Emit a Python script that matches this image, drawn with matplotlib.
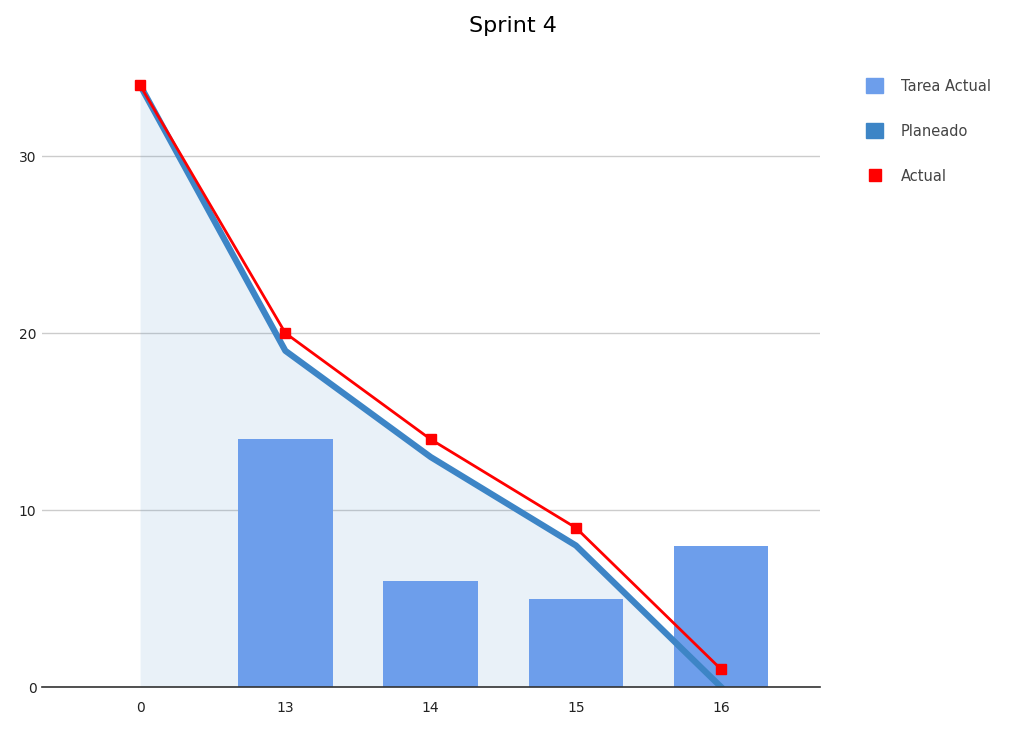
import matplotlib.pyplot as plt
from matplotlib.patches import Patch
from matplotlib.lines import Line2D
import numpy as np

# Datos del sprint
dias = ["0", "13", "14", "15", "16"]
tarea_actual = [0, 14, 6, 5, 8]
planeado = [34, 19, 13, 8, 0]
actual = [34, 20, 14, 9, 1]

x = np.arange(len(dias))

fig = plt.figure(figsize=(10.25, 7.31), dpi=100)
ax = fig.add_axes([0.041, 0.060, 0.759, 0.850])

# Área + línea del planeado
ax.fill_between(x, planeado, 0, color="#3d85c6", alpha=0.11, linewidth=0, zorder=1)
ax.bar(x, tarea_actual, width=0.65, color="#6d9eeb", zorder=2)
ax.plot(x, planeado, color="#3d85c6", linewidth=4.5, zorder=3)
ax.plot(x, actual, color="#ff0000", linewidth=2, marker="s", markersize=7, zorder=4)

ax.set_xlim(-0.675, 4.68)
ax.set_ylim(0, 35.1)
ax.set_yticks([0, 10, 20, 30])
ax.set_xticks(x)
ax.set_xticklabels(dias)
ax.grid(axis="y", color="#cccccc", linewidth=1)
ax.set_axisbelow(True)
for s in ["top", "right", "left"]:
    ax.spines[s].set_visible(False)
ax.spines["bottom"].set_color("#333333")
ax.spines["bottom"].set_linewidth(1.2)
ax.spines["bottom"].set_zorder(5)
ax.tick_params(length=0, labelsize=10, colors="#222222", pad=10)
ax.tick_params(axis="y", pad=4)

fig.text(0.5, 0.965, "Sprint 4", ha="center", va="center", fontsize=16, color="#000000")

handles = [
    Patch(color="#6d9eeb"),
    Patch(color="#3d85c6"),
    Line2D([], [], color="#ff0000", marker="s", linestyle="none", markersize=8),
]
leg = fig.legend(handles, ["Tarea Actual", "Planeado", "Actual"],
                 loc="upper left", bbox_to_anchor=(0.832, 0.911), frameon=False,
                 fontsize=10.5, labelspacing=2.05, handlelength=1.2, handleheight=1.2,
                 handletextpad=1.2)
for t in leg.get_texts():
    t.set_color("#444444")

plt.savefig("out.png", dpi=100)
